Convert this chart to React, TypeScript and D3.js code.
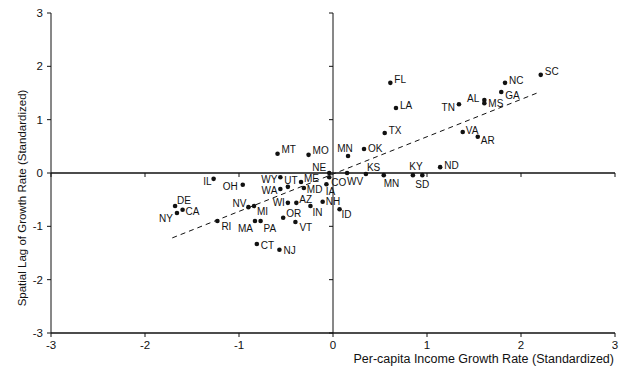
import React from 'react';
import * as d3 from 'd3';

const W = 630;
const H = 376;

// State codes, x = per-capita income growth (std), y = spatial lag (std)
const STATES = ['SC', 'NC', 'GA', 'AL', 'MS', 'TN', 'FL', 'LA', 'TX', 'OK', 'VA', 'AR', 'ND', 'KY', 'SD', 'MN', 'KS', 'WV', 'MN', 'MO', 'MT', 'NE', 'ME', 'WY', 'UT', 'WA', 'MD', 'IA', 'CO', 'AZ', 'WI', 'NH', 'IN', 'ID', 'OR', 'VT', 'MA', 'PA', 'NV', 'MI', 'CT', 'NJ', 'RI', 'NY', 'CA', 'DE', 'IL', 'OH'];
const X_VALUES = [2.21, 1.83, 1.79, 1.61, 1.61, 1.34, 0.61, 0.67, 0.55, 0.33, 1.38, 1.54, 1.14, 0.85, 0.95, 0.54, 0.35, 0.15, 0.16, -0.26, -0.59, -0.04, -0.34, -0.56, -0.48, -0.56, -0.31, -0.07, -0.04, -0.39, -0.48, -0.11, -0.24, 0.07, -0.53, -0.40, -0.83, -0.77, -0.90, -0.84, -0.81, -0.57, -1.23, -1.66, -1.60, -1.68, -1.27, -0.96];
const Y_VALUES = [1.84, 1.69, 1.52, 1.37, 1.31, 1.29, 1.69, 1.22, 0.75, 0.45, 0.77, 0.68, 0.11, -0.04, -0.04, -0.04, -0.02, 0.0, 0.32, 0.34, 0.36, 0.0, -0.17, -0.08, -0.26, -0.30, -0.28, -0.21, -0.08, -0.56, -0.56, -0.54, -0.62, -0.68, -0.84, -0.92, -0.90, -0.90, -0.64, -0.62, -1.33, -1.44, -0.90, -0.75, -0.69, -0.62, -0.11, -0.22];

// fitted line
const FIT_X = [-1.71, 2.2];
const FIT_SLOPE = 0.7;
const FIT_INTERCEPT = -0.02;

const TICKS = [-3, -2, -1, 0, 1, 2, 3];

// label placement per point: [dx, dy, anchor]
const LABEL_POS: [number, number, string][] = [
  [4, -3, 'start'], [4, -2, 'start'], [4, 3, 'start'], [-5, -2, 'end'], [4, 0, 'start'],
  [-4, 3, 'end'], [4, -3, 'start'], [4, -3, 'start'], [4, -3, 'start'], [4, -1, 'start'],
  [3, -2, 'start'], [3, 4, 'start'], [4, -2, 'start'], [3, -9, 'middle'], [0, 9, 'middle'],
  [0, 8, 'start'], [1, -7, 'start'], [0, 8, 'start'], [-3, -8, 'middle'], [4, -4, 'start'],
  [4, -4, 'start'], [-3, -6, 'end'], [3, -3.5, 'start'], [-3, 2, 'end'], [3, -6, 'middle'],
  [-3, 1, 'end'], [3, 1.5, 'start'], [4, 7, 'middle'], [2, 5, 'start'], [3, -3.5, 'start'],
  [-3, 0, 'end'], [3, 0, 'start'], [2, 6, 'start'], [2, 5, 'start'], [3, -4, 'start'],
  [4, 5, 'start'], [-2, 7, 'end'], [3, 7, 'start'], [-2, -4, 'end'], [3, 5, 'start'],
  [4, 1, 'start'], [4, 1, 'start'], [4, 5, 'start'], [-4, 5, 'end'], [3, 2, 'start'],
  [2, -6, 'start'], [-2, 3, 'end'], [-5, 2, 'end'],
];

const FONT = '"Liberation Sans", Arial, Helvetica, sans-serif';

export default function App() {
  const x = d3.scaleLinear().domain([-3, 3]).range([51, 615]);
  const y = d3.scaleLinear().domain([-3, 3]).range([333, 13]);

  const fitPath = d3.line<number>()
    .x(d => x(d))
    .y(d => y(FIT_INTERCEPT + FIT_SLOPE * d))(FIT_X) || '';

  const ink = '#111';

  return (
    <div style={{ position: 'absolute', left: 0, top: 0 }}>
      <svg width={W} height={H} style={{ display: 'block', background: '#fff' }} fontFamily={FONT}>
        {/* axes */}
        <line x1={x(-3)} x2={x(-3)} y1={y(3)} y2={y(-3)} stroke={ink} strokeWidth={1} />
        <line x1={x(-3)} x2={x(3)} y1={y(-3)} y2={y(-3)} stroke={ink} strokeWidth={1.3} />
        {/* zero lines */}
        <line x1={x(-3)} x2={x(3)} y1={y(0)} y2={y(0)} stroke={ink} strokeWidth={1.3} />
        <line x1={x(0)} x2={x(0)} y1={y(3)} y2={y(-3)} stroke={ink} strokeWidth={1} />

        {TICKS.map(t => (
          <g key={'y' + t}>
            <line x1={x(-3) - 4} x2={x(-3)} y1={y(t)} y2={y(t)} stroke={ink} />
            <text x={x(-3) - 8} y={y(t) + 4} textAnchor="end" fontSize={11.5} fill={ink}>{t}</text>
            {t !== 0 && <line x1={x(0) - 4} x2={x(0)} y1={y(t)} y2={y(t)} stroke={ink} />}
          </g>
        ))}
        {TICKS.map(t => (
          <g key={'x' + t}>
            <line x1={x(t)} x2={x(t)} y1={y(-3)} y2={y(-3) + 4} stroke={ink} />
            <text x={x(t)} y={y(-3) + 16} textAnchor="middle" fontSize={11.5} fill={ink}>{t}</text>
            {t !== 0 && <line x1={x(t)} x2={x(t)} y1={y(0)} y2={y(0) + 4} stroke={ink} />}
          </g>
        ))}

        {/* fitted line */}
        <path d={fitPath} fill="none" stroke={ink} strokeWidth={1} strokeDasharray="5,4" />

        {/* points */}
        {STATES.map((s, i) => {
          const cx = x(X_VALUES[i]);
          const cy = y(Y_VALUES[i]);
          const [dx, dy, anchor] = LABEL_POS[i];
          return (
            <g key={s + i}>
              <circle cx={cx} cy={cy} r={2.3} fill={ink} />
              <text x={cx + dx} y={cy + dy + 3.6} textAnchor={anchor as any} fontSize={10} fill={ink}>{s}</text>
            </g>
          );
        })}

        {/* titles */}
        <text transform={`translate(26,198) rotate(-90)`} textAnchor="middle" fontSize={11.5} fill={ink}>
          Spatial Lag of Growth Rate (Standardized)
        </text>
        <text x={614} y={363} textAnchor="end" fontSize={12.5} fill={ink}>
          Per-capita Income Growth Rate (Standardized)
        </text>
      </svg>
    </div>
  );
}
